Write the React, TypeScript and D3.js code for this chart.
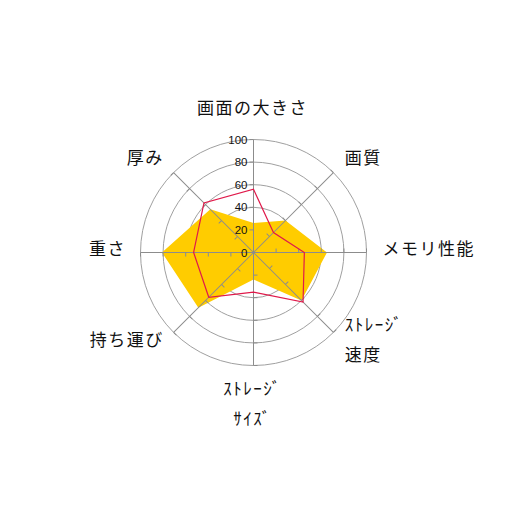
import React from 'react';
import * as d3 from 'd3';

// axes, clockwise from the top
const categories = ['画面の大きさ', '画質', 'メモリ性能', 'ｽﾄﾚｰｼﾞ\n速度', 'ｽﾄﾚｰｼﾞ\nｻｲｽﾞ', '持ち運び', '重さ', '厚み'];
const seriesFill = [26, 40, 65, 60, 24, 69, 81, 54];
const seriesLine = [56, 25, 45, 62, 35, 56, 53, 62];
const tickValues = [0, 20, 40, 60, 80, 100];

const W = 506, H = 506;
const cx = 253.5, cy = 252.5;
const R = 113;

const App = () => {
  const r = d3.scaleLinear().domain([0, 100]).range([0, R]);
  const angle = d3.scaleLinear().domain([0, categories.length]).range([0, 2 * Math.PI]);

  const radial = d3.lineRadial<number>()
    .angle((_, i) => angle(i))
    .radius(d => r(d))
    .curve(d3.curveLinearClosed);

  const catFont = '"Noto Sans CJK JP", "Noto Sans", sans-serif';

  return (
    <svg width={W} height={H} style={{ position: 'absolute', left: 0, top: 0, background: '#fff' }}>
      <g transform={`translate(${cx},${cy})`}>
        {/* grid circles */}
        {tickValues.filter(t => t > 0).map(t => (
          <circle key={t} r={r(t)} fill="none" stroke="#a0a0a0" strokeWidth={1} />
        ))}

        {/* filled series */}
        <path d={radial(seriesFill) || ''} fill="#ffcc00" stroke="none" />

        {/* axes with ticks */}
        {categories.map((c, i) => {
          const deg = (angle(i) * 180) / Math.PI;
          return (
            <g key={c} transform={`rotate(${deg})`}>
              <line x1={0} y1={0} x2={0} y2={-r(100)} stroke="#8c8c8c" strokeWidth={1} />
              {tickValues.filter(t => t > 0).map(t => (
                <line key={t} x1={0} x2={-4} y1={-r(t)} y2={-r(t)} stroke="#8c8c8c" strokeWidth={1} />
              ))}
            </g>
          );
        })}

        {/* line series */}
        <path d={radial(seriesLine) || ''} fill="none" stroke="#e0194a" strokeWidth={1.2} />

        {/* value labels on the top axis */}
        {tickValues.map(t => (
          <text key={t} x={-6} y={-r(t)} dy="0.36em" textAnchor="end"
            fontFamily='"Liberation Sans", Arial, sans-serif' fontSize={11.5} fill="#111">
            {t}
          </text>
        ))}

        {/* category labels */}
        {categories.map((c, i) => {
          const a = angle(i);
          const s = Math.sin(a), k = Math.cos(a);
          const x = 129 * s, y = -129 * k;
          const anchor = s > 0.1 ? 'start' : s < -0.1 ? 'end' : 'middle';
          const lines = c.split('\n');
          const lh = 30;
          const yc = k > 0.9 ? y - 17 : k < -0.9 ? y + 21 : y - 5;
          const y0 = yc - ((lines.length - 1) * lh) / 2;
          const xx = anchor === 'middle' ? x - 1 : anchor === 'start' ? x : x + 1.5;
          return (
            <text key={c} textAnchor={anchor} fontFamily={catFont} fontSize={17} letterSpacing={1.5} fill="#111">
              {lines.map((l, j) => (
                <tspan key={j} x={xx} y={y0 + j * lh} dominantBaseline="central">{l}</tspan>
              ))}
            </text>
          );
        })}
      </g>
    </svg>
  );
};

export default App;
